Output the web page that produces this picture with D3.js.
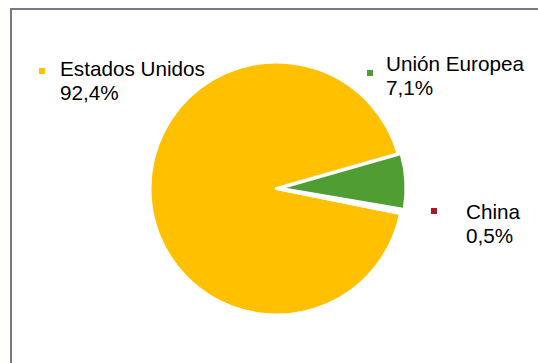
<!DOCTYPE html>
<html>
<head>
<meta charset="utf-8">
<script src="https://cdn.jsdelivr.net/npm/d3@7"></script>
<style>
  body { margin: 0; background: #fff; }
  svg { display: block; font-family: "Liberation Sans", Arial, sans-serif; }
</style>
</head>
<body>
<svg id="chart" width="538" height="363"></svg>
<script>
// Data
const countries = ['Estados Unidos', 'Unión Europea', 'China'];
const shares = [92.4, 7.1, 0.5];
const colors = ['#FFC000', '#509E33', '#A5192F'];

// Label placement (text anchor + marker), per country
const labelPos = [
  { x: 60, y: 76, mx: 39, my: 68 },
  { x: 386, y: 71, mx: 367, my: 70 },
  { x: 466, y: 219, mx: 431, my: 208 }
];

const cx = 276.5;
const cy = 188.5;
const radius = 126.5;
const explode = 3;
const fmt = v => d3.format('.1f')(v).replace('.', ',') + '%';

const svg = d3.select('#chart');

// Chart area border (only top and left edges fall inside the picture)
svg.append('rect')
  .attr('x', 11)
  .attr('y', 9)
  .attr('width', 560)
  .attr('height', 400)
  .attr('fill', '#fff')
  .attr('stroke', '#757989')
  .attr('stroke-width', 2);

const data = countries.map((c, i) => ({ name: c, value: shares[i], color: colors[i] }));

// Rotate so the EU slice sits just right of center, as in the original
const start = 101.4 * Math.PI / 180;
const pie = d3.pie()
  .sort(null)
  .value(d => d.value)
  .startAngle(start)
  .endAngle(start + 2 * Math.PI);

const arc = d3.arc().innerRadius(0).outerRadius(radius);

const arcs = pie(data);

svg.append('g')
    .attr('transform', `translate(${cx},${cy})`)
  .selectAll('path')
  .data(arcs)
  .join('path')
    .attr('d', arc)
    // the China slice is too thin to show behind the white slice borders
    .attr('fill', d => d.data.value < 1 ? '#fff' : d.data.color)
    .attr('stroke', '#fff')
    .attr('stroke-width', 3)
    .attr('stroke-linejoin', 'round')
    .attr('transform', d => {
      if (d.data.name !== 'Unión Europea') return null;
      const mid = (d.startAngle + d.endAngle) / 2;
      return `translate(${Math.sin(mid) * explode},${-Math.cos(mid) * explode})`;
    });

// Data labels with legend key
const labels = svg.append('g')
  .selectAll('g')
  .data(data)
  .join('g');

labels.append('rect')
  .attr('x', (d, i) => labelPos[i].mx)
  .attr('y', (d, i) => labelPos[i].my)
  .attr('width', 6)
  .attr('height', 6)
  .attr('fill', d => d.color);

const txt = labels.append('text')
  .attr('x', (d, i) => labelPos[i].x)
  .attr('y', (d, i) => labelPos[i].y)
  .attr('font-size', 20.7)
  .attr('fill', '#000');

txt.append('tspan').text(d => d.name);
txt.append('tspan')
  .attr('x', (d, i) => labelPos[i].x)
  .attr('dy', 23.5)
  .text(d => fmt(d.value));
</script>
</body>
</html>
